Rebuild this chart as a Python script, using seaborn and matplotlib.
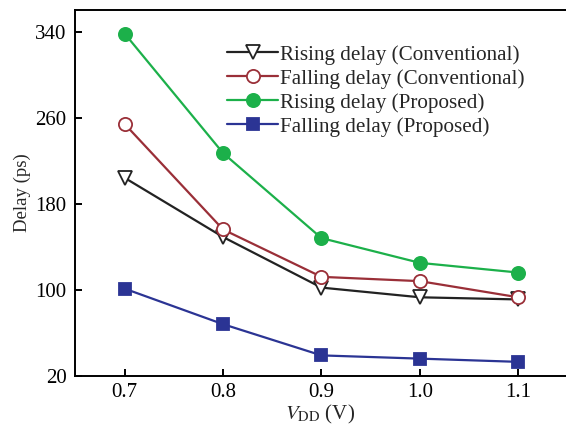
import pandas as pd
import matplotlib
matplotlib.use("Agg")
import matplotlib.pyplot as plt
import seaborn as sns

# data
vdd = [0.7, 0.8, 0.9, 1.0, 1.1]
rise_conv = [204, 149, 102, 93, 91]
fall_conv = [254, 156, 112, 108, 93]
rise_prop = [338, 227, 148, 125, 116]
fall_prop = [101, 68, 39, 36, 33]

series = ["Rising delay (Conventional)", "Falling delay (Conventional)",
          "Rising delay (Proposed)", "Falling delay (Proposed)"]
values = [rise_conv, fall_conv, rise_prop, fall_prop]

df = pd.concat([pd.DataFrame({"VDD": vdd, "Delay": v, "Series": s})
                for s, v in zip(series, values)], ignore_index=True)

sns.set_style("ticks")
plt.rcParams["font.family"] = ["Liberation Serif", "DejaVu Serif"]
plt.rcParams["mathtext.fontset"] = "stix"

styles = {
    series[0]: dict(color="#222222", marker="v", mfc="white", mec="#222222", ms=9.5),
    series[1]: dict(color="#9a2f38", marker="o", mfc="white", mec="#9a2f38", ms=9.5),
    series[2]: dict(color="#1cb04a", marker="o", mfc="#1cb04a", mec="#1cb04a", ms=9.5),
    series[3]: dict(color="#2b3494", marker="s", mfc="#2b3494", mec="#2b3494", ms=8.5),
}

fig, ax = plt.subplots(figsize=(5.66, 4.34), dpi=100)
fig.subplots_adjust(left=0.1325, right=1.0, top=0.977, bottom=0.134)

for s in series:
    st = styles[s]
    sns.lineplot(data=df[df["Series"] == s], x="VDD", y="Delay", ax=ax,
                 color=st["color"], marker=st["marker"], markersize=st["ms"],
                 markerfacecolor=st["mfc"], markeredgecolor=st["mec"],
                 markeredgewidth=1.3, linewidth=1.6, label=s)

ax.set_xlim(0.6495, 1.1485)
ax.set_ylim(20, 360)
ax.set_xticks(vdd)
ax.set_xticklabels(["0.7", "0.8", "0.9", "1.0", "1.1"])
ax.set_yticks([20, 100, 180, 260, 340])
ax.tick_params(direction="in", labelsize=15, length=5, width=1.4, colors="black")
ax.tick_params(axis="y", pad=6)
ax.tick_params(axis="x", pad=5)
for side in ["left", "bottom", "top"]:
    ax.spines[side].set_linewidth(1.4)
    ax.spines[side].set_color("black")
ax.spines["right"].set_visible(False)

ax.set_xlabel("$V_{\\mathrm{DD}}$ (V)", fontsize=15, labelpad=1)
ax.set_ylabel("Delay (ps)", fontsize=13.5, labelpad=3)

ax.legend(loc="upper left", bbox_to_anchor=(0.31, 0.905), frameon=False,
          fontsize=15.2, handlelength=2.4, handletextpad=0.1,
          labelspacing=0.2, borderaxespad=0, borderpad=0)

fig.savefig("out.png", dpi=100)
